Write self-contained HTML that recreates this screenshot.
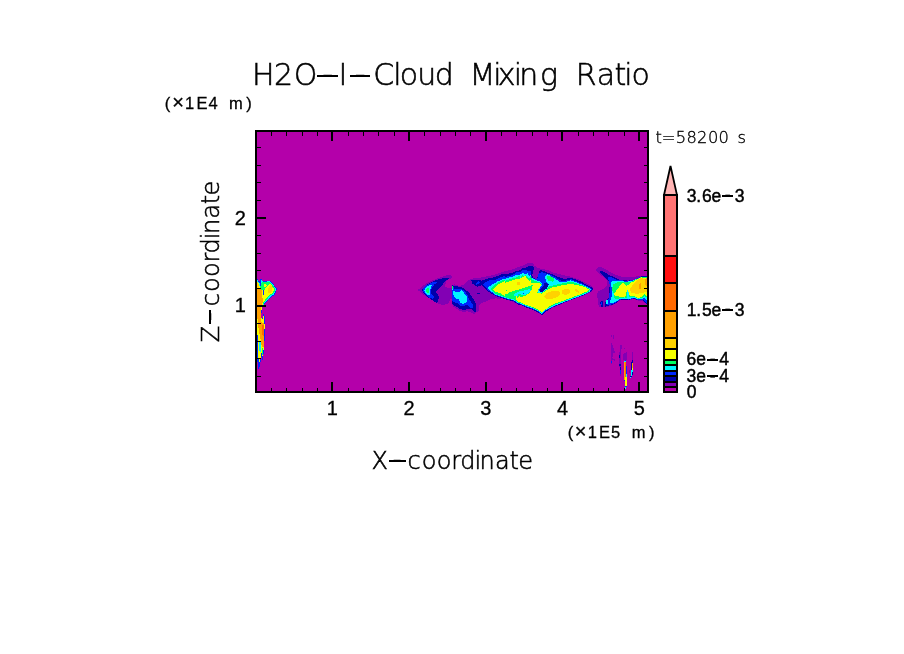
<!DOCTYPE html>
<html lang="en"><head><meta charset="utf-8"><title>H2O-I-Cloud Mixing Ratio</title>
<style>
html,body{margin:0;padding:0;background:#fff}
body{width:904px;height:654px;overflow:hidden}
svg{display:block}
text{text-anchor:middle;fill:#000;white-space:pre}
.thin{font-family:"DejaVu Sans Light","DejaVu Sans ExtraLight","Liberation Sans",sans-serif;font-weight:200;stroke:#000;stroke-width:.55px}
.thin1{font-family:"DejaVu Sans Light","DejaVu Sans ExtraLight","Liberation Sans",sans-serif;font-weight:200;stroke:#000;stroke-width:.35px}

.lbl{font-family:"Liberation Sans",sans-serif;stroke:#000;stroke-width:.45px}
.med{font-family:"Liberation Sans",sans-serif;stroke:#000;stroke-width:.3px}
</style></head><body>
<svg width="904" height="654" viewBox="0 0 904 654">
<rect width="904" height="654" fill="#fff"/>
<rect x="256" y="131" width="392" height="261" fill="#b400aa"/>
<g id="clouds" shape-rendering="crispEdges">
<polygon fill="#8200b4" points="417.9,290.0 422.4,286.2 427.2,282.7 432.7,280.3 438.9,277.9 444.4,275.8 447.5,275.0 450.6,275.2 452.0,276.5 451.6,278.4 449.2,278.8 447.2,280.3 446.1,282.0 445.1,284.8 445.4,287.2 448.5,288.0 451.6,288.4 451.6,298.9 450.6,299.2 449.6,301.3 447.5,303.7 443.0,305.2 440.3,304.4 436.8,302.9 432.7,300.3 427.9,297.5 423.8,294.8 420.3,292.2"/>
<polygon fill="#8200b4" points="451.9,284.7 454.6,284.4 458.8,285.8 462.9,285.1 465.6,282.7 468.7,280.1 472.5,278.5 478.0,278.2 482.5,277.2 487.7,276.1 493.2,275.1 498.0,273.9 500.1,272.6 505.0,272.0 505.0,298.8 502.1,298.2 499.4,299.2 495.9,298.2 493.2,299.5 489.0,298.5 486.3,300.2 483.5,302.3 480.1,304.3 478.7,307.1 478.7,311.2 476.0,312.3 475.3,314.0 472.5,313.3 467.7,311.2 463.6,311.9 459.5,310.5 455.3,307.8 452.9,306.4 451.9,302.3"/>
<polygon fill="#8200b4" points="480.0,277.9 488.0,276.3 495.0,274.5 499.1,273.1 503.9,271.4 508.8,270.3 512.9,269.4 517.7,267.3 522.5,265.6 525.9,263.8 529.4,262.9 532.8,263.4 535.0,266.2 539.1,268.4 543.2,269.0 548.6,270.3 552.7,272.3 559.6,274.2 570.3,276.6 578.2,279.2 586.2,283.2 591.5,285.9 593.5,288.5 591.5,291.9 586.2,294.5 578.2,297.8 570.3,300.5 562.3,303.8 554.3,307.1 547.7,310.4 541.7,314.4 538.4,313.1 533.1,309.8 525.1,306.5 517.2,303.8 509.2,300.5 501.2,297.8 494.6,296.5 490.6,299.2 485.3,301.8 480.0,303.8"/>
<polygon fill="#8200b4" points="596.2,269.6 598.3,267.5 601.7,267.2 605.1,268.9 609.3,271.6 613.4,273.7 617.5,275.4 622.3,276.8 628.5,276.8 634.0,276.8 638.2,276.1 641.3,275.6 647.1,275.8 647.1,304.0 645.1,303.3 642.3,300.5 638.2,300.5 634.0,299.2 628.5,300.2 624.4,299.9 619.6,300.5 616.2,303.3 612.7,305.4 607.2,307.0 598.9,307.0 597.9,300.5 597.2,296.4 597.6,291.6 602.4,289.5 605.8,286.8 607.5,284.7 607.2,280.6 604.8,278.2 601.7,275.8 598.3,273.0 596.5,270.9"/>
<polygon fill="#8200b4" points="610.9,335.0 611.9,335.0 611.9,337.0 610.9,337.0"/>
<polygon fill="#8200b4" points="612.9,335.0 613.9,335.0 613.9,338.9 612.9,338.9"/>
<polygon fill="#8200b4" points="611.1,341.9 612.4,344.9 613.9,348.9 614.9,351.9 614.4,353.9 612.9,352.9 612.4,357.8 614.9,359.8 614.4,360.8 612.4,359.8 611.9,363.8 610.9,364.3 611.1,354.9"/>
<polygon fill="#8200b4" points="620.4,345.4 621.9,345.4 621.4,349.9 620.9,355.8 621.4,362.8 621.4,369.8 621.1,375.7 620.1,375.7 619.9,369.8 619.1,363.8 618.9,355.8 619.9,349.9"/>
<polygon fill="#8200b4" points="623.4,354.4 625.8,352.4 627.3,352.4 627.3,359.8 623.4,359.8"/>
<polygon fill="#8200b4" points="623.9,347.9 624.9,347.9 624.9,348.9 623.9,348.9"/>
<polygon fill="#8200b4" points="632.0,352.4 632.8,352.4 632.8,360.8 632.0,360.8"/>
<polygon fill="#8200b4" points="629.0,369.8 629.6,369.8 629.6,372.7 629.0,372.7"/>
<polygon fill="#0000aa" points="422.0,290.0 423.8,287.2 427.2,284.5 432.7,281.7 437.5,279.6 443.0,278.1 448.5,277.9 449.2,278.8 446.5,280.0 443.7,282.4 442.3,285.1 439.6,288.2 436.5,290.6 436.2,292.4 437.5,294.1 438.9,297.2 437.9,301.0 436.5,302.9 433.4,301.0 429.3,298.2 425.1,294.8 422.7,292.0"/>
<polygon fill="#0000aa" points="451.9,285.4 454.6,285.8 458.8,286.8 462.2,287.5 465.6,289.9 469.1,292.6 471.5,296.1 473.9,299.5 476.0,304.3 476.0,311.6 473.9,311.9 472.5,309.5 467.7,309.2 463.6,310.2 459.8,308.8 456.0,306.4 452.9,304.7 451.9,301.6"/>
<polygon fill="#0000aa" points="471.2,280.3 473.9,279.9 478.0,280.3 482.2,280.6 486.3,278.9 491.8,277.8 497.3,276.1 500.1,275.1 502.1,274.1 505.0,273.7 505.0,298.8 501.4,297.5 497.3,295.4 493.2,294.4 489.7,292.6 487.0,290.6 484.9,287.1 483.2,284.7 480.8,285.8 477.3,286.8 474.6,285.4 472.2,283.4"/>
<polygon fill="#0000aa" points="480.0,280.8 486.6,279.9 495.0,277.9 498.5,275.9 502.6,274.5 507.3,273.8 512.3,272.7 515.7,271.0 518.4,270.7 522.5,268.4 527.4,267.3 528.7,266.0 532.8,266.2 534.2,268.4 532.8,271.9 532.4,275.3 533.1,277.9 537.1,279.2 538.4,273.9 540.0,269.9 546.9,272.3 553.8,275.0 560.6,277.8 564.8,279.2 570.3,277.5 574.4,278.8 580.0,281.2 585.4,284.0 590.2,286.4 593.0,288.5 592.8,289.9 590.2,292.2 583.5,295.2 575.6,298.2 567.6,301.1 559.6,304.5 551.7,307.8 546.4,311.4 541.9,315.1 539.1,313.1 535.6,311.0 530.8,309.2 525.9,307.5 522.5,305.8 518.4,304.5 515.7,302.7 513.6,301.3 508.8,300.3 503.9,298.9 499.1,297.2 495.0,295.7 490.6,292.8 486.6,289.9 482.7,285.9 480.0,283.9"/>
<polygon fill="#8200b4" points="534.2,268.4 535.8,268.0 539.7,270.2 538.1,274.6 536.8,279.2 533.1,277.9 532.4,275.0 533.1,271.3"/>
<polygon fill="#0000aa" points="600.0,271.6 602.0,270.9 605.1,272.3 608.6,274.7 612.7,276.5 616.2,278.2 620.3,280.2 628.5,280.6 634.0,279.9 638.2,277.8 641.3,276.1 647.1,276.5 647.1,304.0 645.1,302.9 642.3,300.2 638.2,300.2 634.0,298.8 628.5,299.9 624.4,299.5 619.6,300.2 616.2,302.9 612.7,304.7 607.2,306.0 605.5,307.0 604.8,303.3 606.5,300.5 608.6,297.8 609.3,292.3 609.6,284.7 608.6,281.3 605.8,278.5 603.1,275.8 600.3,273.0"/>
<polygon fill="#0028ff" points="256.6,278.9 258.0,279.8 259.3,282.1 260.7,278.0 262.6,280.7 265.8,281.2 270.3,280.7 272.6,283.0 274.9,286.2 276.8,288.5 276.3,291.7 274.5,294.9 271.7,296.8 268.5,299.5 265.8,302.3 263.9,305.2 256.6,305.2"/>
<polygon fill="#0028ff" points="256.6,306.6 262.3,306.6 261.7,311.2 261.2,316.9 262.3,319.2 263.5,314.0 264.8,316.9 265.2,324.9 264.8,334.1 264.4,343.3 264.0,351.3 262.9,357.0 262.3,361.6 261.7,355.9 260.6,361.6 259.5,367.4 258.3,369.7 257.7,363.9 256.6,352.5"/>
<polygon fill="#0028ff" points="422.4,290.0 424.1,287.2 427.2,284.8 431.3,282.7 436.5,281.8 436.8,282.7 434.1,284.8 432.0,287.9 430.6,290.6 431.3,293.4 433.4,296.2 434.1,297.9 432.7,298.9 429.3,297.5 425.5,294.1 423.1,291.7"/>
<polygon fill="#0028ff" points="452.2,286.5 453.6,287.5 454.6,289.2 457.4,289.5 460.8,288.9 463.9,290.6 466.3,293.3 468.1,296.1 468.7,299.2 471.2,302.3 473.2,305.0 472.9,308.1 470.5,307.8 468.7,305.7 465.6,305.0 463.6,306.4 460.8,306.1 458.1,303.7 454.6,302.3 452.4,300.9"/>
<polygon fill="#0028ff" points="483.2,284.4 486.3,281.6 489.7,280.3 494.6,279.9 498.7,278.2 501.4,276.8 505.0,276.1 505.0,298.2 502.8,297.1 499.4,295.1 494.6,293.7 490.4,292.0 487.7,289.9 485.6,286.8"/>
<polygon fill="#0028ff" points="482.7,284.5 488.0,282.6 495.0,280.7 498.5,278.7 501.9,277.6 506.7,276.6 512.3,275.3 515.7,272.7 517.7,272.1 521.2,271.8 522.5,270.3 525.9,270.1 528.1,271.0 530.8,270.7 531.1,275.3 532.2,277.9 537.1,279.5 538.4,274.6 540.0,273.0 545.4,273.4 548.9,274.1 553.8,276.5 558.6,279.2 562.7,281.6 566.2,280.6 570.9,279.2 575.8,281.0 581.3,283.4 586.7,285.7 591.0,287.9 591.8,289.3 589.9,292.0 582.9,295.2 574.9,298.1 567.0,301.1 559.0,304.2 551.0,307.8 546.0,310.8 541.9,314.4 539.1,312.4 535.6,310.3 530.8,308.6 525.9,306.9 522.5,305.1 518.4,303.8 515.7,302.1 513.6,300.6 508.8,299.7 503.9,298.2 499.1,296.5 495.0,295.0 491.3,292.5 488.6,289.9"/>
<polygon fill="#0028ff" points="608.2,277.1 610.6,276.8 613.4,278.2 616.2,279.5 620.3,280.4 628.5,280.7 634.0,280.0 638.2,278.0 641.3,276.5 647.1,276.8 647.1,303.3 645.1,301.9 643.0,299.5 638.2,299.9 634.0,298.3 628.5,299.5 624.4,299.0 619.6,299.7 616.2,302.3 612.7,304.0 607.2,305.4 606.2,304.0 606.9,301.2 608.9,298.1 609.6,292.3 609.8,284.7 608.6,280.6"/>
<polygon fill="#00f5ff" points="424.1,290.6 425.5,287.5 428.6,285.5 432.0,284.8 431.3,287.2 430.0,290.0 429.6,292.7 430.0,295.5 427.9,295.1 425.5,293.1"/>
<polygon fill="#00f5ff" points="452.2,286.8 453.3,290.6 455.3,291.6 458.8,292.0 461.5,290.2 463.6,292.6 465.6,294.7 467.0,297.5 466.9,301.2 465.0,303.3 462.2,304.0 460.5,302.6 458.8,299.5 455.3,298.2 453.6,295.4 452.7,292.0"/>
<polygon fill="#00f5ff" points="488.0,287.8 489.7,286.1 493.2,284.0 497.3,281.6 501.4,279.6 505.0,278.5 505.0,297.8 500.7,295.4 496.6,293.3 492.5,292.0 489.0,289.9"/>
<polygon fill="#00f5ff" points="488.0,287.9 490.6,285.9 495.0,283.5 499.1,281.1 503.2,279.4 508.8,277.6 512.9,276.6 516.4,274.5 518.4,275.3 521.2,274.2 522.5,272.7 525.3,274.2 527.4,273.1 529.4,275.9 530.8,274.9 531.5,277.9 535.8,279.9 541.1,281.9 542.4,284.5 539.7,288.5 538.4,291.2 541.7,291.9 545.0,289.9 547.7,286.5 549.0,284.5 546.4,281.9 545.0,277.9 545.2,275.8 547.6,274.1 551.7,276.9 555.8,279.2 560.6,282.3 565.5,281.9 570.9,280.3 575.8,282.0 581.3,284.4 586.7,286.8 590.2,288.5 591.0,289.6 589.5,291.9 582.2,295.2 574.3,298.1 566.3,301.1 558.3,304.2 550.4,307.8 545.6,310.3 541.9,313.8 539.1,311.8 535.6,309.6 530.8,307.9 525.9,306.2 522.5,304.5 518.4,303.1 515.7,301.4 513.6,299.9 508.8,299.0 503.9,297.6 499.1,295.8 495.0,294.4 491.9,292.0 490.0,289.9"/>
<polygon fill="#00f5ff" points="611.0,282.0 613.4,280.6 617.5,280.9 620.3,281.3 625.8,281.6 631.3,281.3 634.7,279.9 638.2,278.2 641.3,276.8 647.1,277.1 647.1,300.5 644.4,297.8 643.0,298.5 638.2,299.5 634.0,297.8 628.5,299.2 624.4,298.5 619.6,299.2 616.2,301.6 612.7,303.3 610.0,302.6 610.6,299.5 612.0,296.4 612.4,290.9 611.3,286.1"/>
<polygon fill="#00f5ff" points="257.5,279.8 259.3,283.0 261.2,279.3 262.6,281.6 265.8,281.6 269.9,281.2 272.2,283.5 274.5,286.7 275.9,289.0 275.4,291.7 273.6,294.5 270.8,296.3 267.6,299.5 264.8,302.7 263.2,305.2 256.6,305.2 256.6,279.8"/>
<polygon fill="#00ff64" points="426.2,289.6 427.5,288.0 428.9,288.4 428.9,290.6 428.6,293.1 427.2,292.7 426.2,291.3"/>
<polygon fill="#00ff64" points="452.1,286.1 452.9,286.1 452.9,288.9 452.1,288.9"/>
<polygon fill="#00ff64" points="491.1,288.5 493.2,285.8 497.3,283.0 502.1,280.6 505.0,279.6 505.0,297.1 501.4,295.1 497.3,292.6 493.2,290.9"/>
<polygon fill="#00ff64" points="490.6,288.8 493.3,286.5 495.0,285.5 499.1,283.5 503.9,281.4 508.8,279.6 513.6,277.9 517.7,277.2 518.8,275.5 520.5,277.6 522.5,275.3 523.9,276.2 525.9,275.3 527.4,277.2 529.4,278.7 530.8,275.9 531.8,279.4 535.8,281.2 540.4,282.6 541.7,284.5 538.4,289.9 537.7,292.5 541.7,292.8 546.4,289.9 548.9,286.7 553.8,285.2 558.6,284.2 564.0,283.0 568.9,282.3 573.1,282.3 577.2,283.4 581.3,284.9 585.4,286.5 589.3,288.4 590.2,289.6 588.2,291.9 580.9,294.9 572.9,297.8 565.0,300.7 557.0,303.8 549.7,307.1 545.0,309.8 541.9,313.1 539.1,311.1 535.6,309.0 530.8,307.2 525.9,305.5 522.5,303.8 518.4,302.5 515.7,300.7 513.6,299.3 508.8,298.4 503.9,296.9 499.1,295.2 495.0,293.7 493.0,291.5 491.9,289.9"/>
<polygon fill="#00ff64" points="613.7,284.0 617.5,282.3 620.3,282.0 625.8,282.3 631.3,282.0 634.7,280.4 638.2,278.5 641.3,277.1 647.1,277.5 647.1,297.8 644.4,296.4 642.3,297.8 638.2,298.8 634.7,297.1 631.3,296.8 628.5,297.8 624.4,297.4 619.6,298.1 616.2,299.5 614.1,297.8 613.7,293.7 612.0,289.5 612.7,286.1"/>
<polygon fill="#00ff64" points="261.2,283.0 263.5,282.1 266.7,281.9 269.9,281.9 271.7,283.9 274.0,287.1 274.9,289.4 274.5,291.7 272.6,294.0 270.3,295.4 267.1,299.1 264.4,302.3 262.8,305.2 256.6,305.2 256.6,290.3 259.3,286.7"/>
<polygon fill="#f5ff00" points="493.2,289.2 495.9,286.1 500.1,283.4 505.0,280.9 505.0,296.1 502.8,294.7 499.4,292.6 495.9,291.3"/>
<polygon fill="#f5ff00" points="493.3,289.2 495.0,287.6 499.8,285.2 504.7,283.1 510.1,281.1 515.7,279.4 519.8,278.7 522.5,277.2 525.3,275.9 527.4,278.7 529.4,280.7 530.8,279.4 531.5,282.8 535.8,283.2 540.4,283.5 541.3,285.2 538.4,289.2 537.1,292.8 541.7,293.6 546.4,290.5 550.4,288.0 555.7,286.7 562.3,285.3 567.6,284.4 574.3,284.5 580.9,285.9 586.2,287.7 589.1,289.6 586.9,291.5 579.6,294.5 571.6,297.6 563.6,300.5 555.7,303.4 549.0,306.5 544.5,310.2 541.9,312.2 539.1,310.3 535.6,308.2 530.8,306.5 525.9,304.7 522.5,303.1 517.7,301.5 516.0,299.7 516.4,296.2 517.7,297.8 519.0,295.8 521.2,297.2 525.3,295.8 529.4,293.0 532.2,288.9 532.6,285.2 530.8,285.5 525.9,287.2 521.2,288.9 515.7,290.3 512.3,291.3 508.8,292.8 506.7,294.1 503.9,294.5 501.9,293.7 498.5,292.8 495.0,291.5 493.3,290.1"/>
<polygon fill="#f5ff00" points="614.1,294.3 615.5,291.6 617.5,288.8 620.3,285.4 623.0,283.0 624.4,284.0 626.5,286.1 628.5,284.7 630.6,282.6 632.7,282.0 634.7,280.9 638.2,278.9 641.3,277.3 644.4,278.5 647.1,277.8 647.1,296.4 644.4,294.3 642.3,296.4 638.2,298.1 634.7,296.1 631.3,296.1 629.2,295.0 628.5,292.3 627.5,290.2 626.5,292.3 625.8,296.4 623.0,296.8 620.3,297.4 618.2,296.1 616.2,296.4"/>
<polygon fill="#f5ff00" points="256.6,280.3 258.9,283.9 260.3,287.6 258.9,290.3 262.1,289.4 263.9,290.3 265.8,288.1 268.1,284.8 269.9,283.5 271.3,284.8 273.6,288.1 274.0,290.3 272.6,293.1 269.9,294.5 266.7,298.1 263.9,301.4 262.3,305.2 256.6,305.2"/>
<polygon fill="#f5ff00" points="263.5,284.4 266.2,283.7 266.9,285.8 264.8,287.1 263.5,286.5"/>
<polygon fill="#f5ff00" points="256.6,306.6 261.7,306.6 261.2,316.9 262.1,320.3 263.5,316.3 264.6,324.9 264.4,334.1 263.9,343.3 263.5,350.2 262.6,355.9 261.4,352.5 260.3,359.3 259.1,363.9 258.3,357.0 257.7,336.4 256.6,324.9"/>
<polygon fill="#0028ff" points="475.3,284.4 477.0,282.3 478.7,280.9 480.1,282.0 478.7,283.7 476.7,284.9"/>
<polygon fill="#0000aa" points="477.0,293.0 480.1,293.0 480.1,294.0 477.0,294.0"/>
<polygon fill="#00ff64" points="547.0,275.9 551.7,276.6 554.3,279.2 553.0,281.6 549.0,281.2 547.4,279.0"/>
<polygon fill="#0028ff" points="538.4,274.6 541.7,271.9 545.7,273.3 545.0,277.9 543.7,281.9 546.4,283.9 548.4,284.5 546.4,287.9 542.4,291.2 539.7,291.9 540.4,288.5 543.7,285.2 542.4,283.2 538.4,279.9"/>
<polygon fill="#0000aa" points="543.5,282.6 546.4,283.2 549.0,284.5 547.0,288.3 542.7,291.5 539.7,292.0 540.5,289.2 544.0,285.6"/>
<polygon fill="#00f5ff" points="514.9,293.7 517.7,291.7 522.5,291.1 527.4,289.6 530.0,288.7 530.8,290.3 528.7,293.4 524.6,295.4 521.2,294.8 519.0,293.7 517.7,295.8 515.7,296.2 513.6,295.8"/>
<polygon fill="#0028ff" points="522.7,292.8 523.8,292.8 523.8,293.8 522.7,293.8"/>
<polygon fill="#00ff64" points="506.0,290.0 507.1,290.0 507.1,291.1 506.0,291.1"/>
<polygon fill="#ffd200" points="544.4,296.5 546.4,293.2 551.7,291.2 557.0,290.5 559.6,291.9 560.3,294.5 557.0,297.2 551.7,298.9 546.4,298.9"/>
<polygon fill="#ffd200" points="561.6,290.5 565.0,288.8 568.9,289.2 570.3,291.2 568.9,293.8 565.0,295.2 562.3,293.8"/>
<polygon fill="#ffd200" points="574.3,289.2 576.9,289.2 579.6,291.9 578.2,292.8 575.6,290.9"/>
<polygon fill="#ffd200" points="517.2,282.2 519.8,282.2 519.8,284.5 517.2,284.5"/>
<polygon fill="#0000aa" points="600.3,301.6 602.7,301.2 603.1,304.7 602.4,307.0 600.7,307.0"/>
<polygon fill="#0028ff" points="601.0,302.6 602.4,302.3 602.5,305.4 601.4,305.4"/>
<polygon fill="#00f5ff" points="606.2,299.9 608.0,299.5 608.0,303.3 606.5,304.0"/>
<polygon fill="#00f5ff" points="627.3,290.2 628.7,292.3 628.9,298.5 627.5,298.8"/>
<polygon fill="#ffd200" points="629.9,289.5 631.3,286.8 634.0,283.3 636.8,280.6 639.6,278.5 641.6,277.8 644.4,279.2 647.1,278.5 647.1,292.3 645.1,291.6 643.0,293.0 639.6,293.3 636.8,294.3 634.0,293.0 631.3,293.0"/>
<polygon fill="#ffa000" points="638.9,284.7 640.2,283.0 641.3,284.0 640.9,288.2 639.6,289.5 638.7,287.5"/>
<polygon fill="#ffa000" points="644.7,282.0 645.7,278.5 647.1,277.5 647.1,286.1 645.4,285.4"/>
<polygon fill="#0028ff" points="259.9,280.3 261.2,280.3 261.2,285.8 260.1,285.8"/>
<polygon fill="#0028ff" points="263.0,290.3 264.4,289.9 264.2,294.9 263.0,294.9"/>
<polygon fill="#ffa000" points="256.6,288.5 260.3,289.0 261.6,290.3 262.1,295.9 263.0,299.5 262.6,303.2 261.6,305.2 256.6,305.2"/>
<polygon fill="#ffd200" points="267.6,290.3 269.0,286.7 270.8,284.4 272.6,287.6 271.7,291.7 269.4,293.6 267.6,292.6"/>
<polygon fill="#ffd200" points="256.6,280.7 258.4,283.9 259.3,288.1 256.6,288.5"/>
<polygon fill="#ffa000" points="257.0,306.6 260.9,306.6 260.6,315.8 261.2,321.5 262.6,323.2 264.4,323.8 264.4,336.4 263.5,346.7 261.9,347.9 260.5,338.7 258.9,330.7 257.5,319.2"/>
<polygon fill="#ff6900" points="261.9,325.5 263.9,324.9 264.2,333.0 263.1,337.6 261.9,333.0"/>
<polygon fill="#00f5ff" points="259.1,341.0 260.6,342.1 261.2,347.9 260.3,353.6 259.3,350.2"/>
<polygon fill="#00ff64" points="261.7,347.9 262.9,347.9 262.6,354.8 261.9,353.6"/>
<polygon fill="#0028ff" points="610.9,361.3 611.9,361.3 611.9,362.8 610.9,362.8"/>
<polygon fill="#0000aa" points="618.9,354.9 620.4,354.9 620.4,358.3 618.9,358.3"/>
<polygon fill="#0000aa" points="618.9,363.8 621.1,363.8 621.1,365.8 618.9,365.8"/>
<polygon fill="#0000aa" points="619.9,366.8 621.4,366.8 621.4,373.7 619.9,373.7"/>
<polygon fill="#0028ff" points="620.2,369.8 621.1,369.8 621.1,373.7 620.2,373.7"/>
<polygon fill="#0028ff" points="623.9,360.8 626.3,360.3 626.6,367.8 627.0,373.7 627.3,379.7 626.8,385.7 626.0,389.1 624.9,389.4 624.9,381.7 623.9,380.7 623.7,369.8"/>
<polygon fill="#00f5ff" points="624.4,360.6 626.0,360.6 626.0,362.0 624.4,362.0"/>
<polygon fill="#ff6900" points="624.1,362.0 626.0,362.0 626.0,379.7 624.4,379.7"/>
<polygon fill="#ffa000" points="624.1,362.0 625.0,362.0 625.0,379.7 624.4,379.7"/>
<polygon fill="#f5ff00" points="624.7,377.7 626.6,376.7 626.6,385.7 625.3,386.2 625.0,381.7"/>
<polygon fill="#00f5ff" points="624.9,386.7 626.0,386.7 626.0,389.4 624.9,389.4"/>
<polygon fill="#00f5ff" points="626.2,373.7 627.0,373.7 627.0,376.7 626.2,376.7"/>
<polygon fill="#0000aa" points="631.8,359.8 633.0,359.8 633.3,369.8 632.8,373.7 631.8,376.7 630.3,378.2 629.8,377.2 631.0,374.7 631.0,365.8"/>
<polygon fill="#ffa000" points="632.0,363.3 633.0,363.3 633.0,367.8 632.0,367.8"/>
<polygon fill="#f5ff00" points="632.0,367.8 633.0,367.8 633.0,370.3 632.0,370.3"/>
<polygon fill="#00f5ff" points="631.2,369.8 632.6,370.3 632.4,373.7 631.6,375.9 631.0,374.7"/>
<polygon fill="#00ff64" points="631.6,370.8 632.4,371.0 632.2,373.7 631.6,374.2"/>
<polygon fill="#00f5ff" points="630.0,376.9 631.0,376.9 631.0,378.1 630.0,378.1"/>
</g>
<g stroke="#000" shape-rendering="crispEdges">
<line x1="271.5" y1="132" x2="271.5" y2="136" stroke-width="1"/>
<line x1="271.5" y1="388" x2="271.5" y2="391" stroke-width="1"/>
<line x1="286.5" y1="132" x2="286.5" y2="136" stroke-width="1"/>
<line x1="286.5" y1="388" x2="286.5" y2="391" stroke-width="1"/>
<line x1="302.5" y1="132" x2="302.5" y2="136" stroke-width="1"/>
<line x1="302.5" y1="388" x2="302.5" y2="391" stroke-width="1"/>
<line x1="317.5" y1="132" x2="317.5" y2="136" stroke-width="1"/>
<line x1="317.5" y1="388" x2="317.5" y2="391" stroke-width="1"/>
<line x1="332" y1="132" x2="332" y2="141" stroke-width="2"/>
<line x1="332" y1="382" x2="332" y2="391" stroke-width="2"/>
<line x1="348.5" y1="132" x2="348.5" y2="136" stroke-width="1"/>
<line x1="348.5" y1="388" x2="348.5" y2="391" stroke-width="1"/>
<line x1="363.5" y1="132" x2="363.5" y2="136" stroke-width="1"/>
<line x1="363.5" y1="388" x2="363.5" y2="391" stroke-width="1"/>
<line x1="378.5" y1="132" x2="378.5" y2="136" stroke-width="1"/>
<line x1="378.5" y1="388" x2="378.5" y2="391" stroke-width="1"/>
<line x1="394.5" y1="132" x2="394.5" y2="136" stroke-width="1"/>
<line x1="394.5" y1="388" x2="394.5" y2="391" stroke-width="1"/>
<line x1="409" y1="132" x2="409" y2="141" stroke-width="2"/>
<line x1="409" y1="382" x2="409" y2="391" stroke-width="2"/>
<line x1="424.5" y1="132" x2="424.5" y2="136" stroke-width="1"/>
<line x1="424.5" y1="388" x2="424.5" y2="391" stroke-width="1"/>
<line x1="440.5" y1="132" x2="440.5" y2="136" stroke-width="1"/>
<line x1="440.5" y1="388" x2="440.5" y2="391" stroke-width="1"/>
<line x1="455.5" y1="132" x2="455.5" y2="136" stroke-width="1"/>
<line x1="455.5" y1="388" x2="455.5" y2="391" stroke-width="1"/>
<line x1="470.5" y1="132" x2="470.5" y2="136" stroke-width="1"/>
<line x1="470.5" y1="388" x2="470.5" y2="391" stroke-width="1"/>
<line x1="486" y1="132" x2="486" y2="141" stroke-width="2"/>
<line x1="486" y1="382" x2="486" y2="391" stroke-width="2"/>
<line x1="501.5" y1="132" x2="501.5" y2="136" stroke-width="1"/>
<line x1="501.5" y1="388" x2="501.5" y2="391" stroke-width="1"/>
<line x1="516.5" y1="132" x2="516.5" y2="136" stroke-width="1"/>
<line x1="516.5" y1="388" x2="516.5" y2="391" stroke-width="1"/>
<line x1="532.5" y1="132" x2="532.5" y2="136" stroke-width="1"/>
<line x1="532.5" y1="388" x2="532.5" y2="391" stroke-width="1"/>
<line x1="547.5" y1="132" x2="547.5" y2="136" stroke-width="1"/>
<line x1="547.5" y1="388" x2="547.5" y2="391" stroke-width="1"/>
<line x1="562" y1="132" x2="562" y2="141" stroke-width="2"/>
<line x1="562" y1="382" x2="562" y2="391" stroke-width="2"/>
<line x1="578.5" y1="132" x2="578.5" y2="136" stroke-width="1"/>
<line x1="578.5" y1="388" x2="578.5" y2="391" stroke-width="1"/>
<line x1="593.5" y1="132" x2="593.5" y2="136" stroke-width="1"/>
<line x1="593.5" y1="388" x2="593.5" y2="391" stroke-width="1"/>
<line x1="608.5" y1="132" x2="608.5" y2="136" stroke-width="1"/>
<line x1="608.5" y1="388" x2="608.5" y2="391" stroke-width="1"/>
<line x1="624.5" y1="132" x2="624.5" y2="136" stroke-width="1"/>
<line x1="624.5" y1="388" x2="624.5" y2="391" stroke-width="1"/>
<line x1="639" y1="132" x2="639" y2="141" stroke-width="2"/>
<line x1="639" y1="382" x2="639" y2="391" stroke-width="2"/>
<line x1="257" y1="376.5" x2="261" y2="376.5" stroke-width="1"/>
<line x1="644" y1="376.5" x2="647" y2="376.5" stroke-width="1"/>
<line x1="257" y1="358.5" x2="261" y2="358.5" stroke-width="1"/>
<line x1="644" y1="358.5" x2="647" y2="358.5" stroke-width="1"/>
<line x1="257" y1="341.5" x2="261" y2="341.5" stroke-width="1"/>
<line x1="644" y1="341.5" x2="647" y2="341.5" stroke-width="1"/>
<line x1="257" y1="323.5" x2="261" y2="323.5" stroke-width="1"/>
<line x1="644" y1="323.5" x2="647" y2="323.5" stroke-width="1"/>
<line x1="257" y1="306" x2="266" y2="306" stroke-width="2"/>
<line x1="638" y1="306" x2="647" y2="306" stroke-width="2"/>
<line x1="257" y1="288.5" x2="261" y2="288.5" stroke-width="1"/>
<line x1="644" y1="288.5" x2="647" y2="288.5" stroke-width="1"/>
<line x1="257" y1="270.5" x2="261" y2="270.5" stroke-width="1"/>
<line x1="644" y1="270.5" x2="647" y2="270.5" stroke-width="1"/>
<line x1="257" y1="253.5" x2="261" y2="253.5" stroke-width="1"/>
<line x1="644" y1="253.5" x2="647" y2="253.5" stroke-width="1"/>
<line x1="257" y1="235.5" x2="261" y2="235.5" stroke-width="1"/>
<line x1="644" y1="235.5" x2="647" y2="235.5" stroke-width="1"/>
<line x1="257" y1="218" x2="266" y2="218" stroke-width="2"/>
<line x1="638" y1="218" x2="647" y2="218" stroke-width="2"/>
<line x1="257" y1="200.5" x2="261" y2="200.5" stroke-width="1"/>
<line x1="644" y1="200.5" x2="647" y2="200.5" stroke-width="1"/>
<line x1="257" y1="182.5" x2="261" y2="182.5" stroke-width="1"/>
<line x1="644" y1="182.5" x2="647" y2="182.5" stroke-width="1"/>
<line x1="257" y1="165.5" x2="261" y2="165.5" stroke-width="1"/>
<line x1="644" y1="165.5" x2="647" y2="165.5" stroke-width="1"/>
<line x1="257" y1="147.5" x2="261" y2="147.5" stroke-width="1"/>
<line x1="644" y1="147.5" x2="647" y2="147.5" stroke-width="1"/>
</g>
<rect x="256" y="131" width="392" height="261" fill="none" stroke="#000" stroke-width="2" shape-rendering="crispEdges"/>
<g shape-rendering="crispEdges">
<rect x="664" y="387.0" width="13" height="5.0" fill="#b400aa"/>
<rect x="664" y="382.0" width="13" height="5.0" fill="#8200b4"/>
<rect x="664" y="376.0" width="13" height="6.0" fill="#0000aa"/>
<rect x="664" y="371.0" width="13" height="5.0" fill="#0028ff"/>
<rect x="664" y="365.0" width="13" height="6.0" fill="#00f5ff"/>
<rect x="664" y="360.0" width="13" height="5.0" fill="#00ff64"/>
<rect x="664" y="349.0" width="13" height="11.0" fill="#f5ff00"/>
<rect x="664" y="338.0" width="13" height="11.0" fill="#ffd200"/>
<rect x="664" y="311.0" width="13" height="27.0" fill="#ffa000"/>
<rect x="664" y="283.0" width="13" height="28.0" fill="#ff6900"/>
<rect x="664" y="256.0" width="13" height="27.0" fill="#ff0f0f"/>
<rect x="664" y="195.0" width="13" height="61.0" fill="#ff7373"/>
<line x1="664" y1="387" x2="677" y2="387" stroke="#000" stroke-width="2"/>
<line x1="664" y1="382" x2="677" y2="382" stroke="#000" stroke-width="2"/>
<line x1="664" y1="376" x2="677" y2="376" stroke="#000" stroke-width="2"/>
<line x1="664" y1="371" x2="677" y2="371" stroke="#000" stroke-width="2"/>
<line x1="664" y1="365" x2="677" y2="365" stroke="#000" stroke-width="2"/>
<line x1="664" y1="360" x2="677" y2="360" stroke="#000" stroke-width="2"/>
<line x1="664" y1="349" x2="677" y2="349" stroke="#000" stroke-width="2"/>
<line x1="664" y1="338" x2="677" y2="338" stroke="#000" stroke-width="2"/>
<line x1="664" y1="311" x2="677" y2="311" stroke="#000" stroke-width="2"/>
<line x1="664" y1="283" x2="677" y2="283" stroke="#000" stroke-width="2"/>
<line x1="664" y1="256" x2="677" y2="256" stroke="#000" stroke-width="2"/>
<rect x="664" y="195" width="13" height="197" fill="none" stroke="#000" stroke-width="2"/>
</g>
<path d="M664 195 L670.5 166 L677 195 Z" fill="#ffb4b4" stroke="#000" stroke-width="1.8" stroke-linejoin="miter"/>
<text class="thin" font-size="30" x="263.3 283.6 305.6 327.7 343.0 360.2 383.8 397.5 409.0 426.7 444.2 463.4 482.5 497.3 506.7 517.8 528.7 549.0 567.6 586.2 606.0 620.5 628.5 640.8" y="85.0 85.0 85.0 84.4 85.0 84.4 85.0 85.0 85.0 85.0 85.0 85.0 85.0 85.0 85.0 85.0 85.0 85.0 85.0 85.0 85.0 85.0 85.0 85.0">H2O-I-Cloud Mixing Ratio</text>
<g shape-rendering="crispEdges" fill="#000"><rect x="317" y="75" width="20.5" height="2"/><rect x="350" y="75" width="19.5" height="2"/>
<rect x="389" y="460" width="16.5" height="2"/><rect x="209" y="309.5" width="2" height="14.5"/>
<rect x="722" y="195" width="11" height="2"/><rect x="722" y="309" width="11" height="2"/><rect x="707" y="359" width="11" height="2"/><rect x="707" y="375" width="11" height="2"/></g>
<text class="med" font-size="16.5" x="167.6 178.2 189.7 201.9 213.2 224.5 235.8 249.0" y="108.5 109.3 108.5 108.5 108.5 108.5 108.5 108.5">(<tspan font-size="20">×</tspan>1E4 m)</text>
<text class="med" font-size="16.5" x="570.5 580.7 592.3 604.5 615.5 627.0 638.5 651.7" y="437.5 438.3 437.5 437.5 437.5 437.5 437.5 437.5">(<tspan font-size="20">×</tspan>1E5 m)</text>
<text class="thin1" font-size="16.3" x="658.7 668.7 681.0 691.8 702.2 713.1 723.7 732.8 741.8" y="143">t=58200 s</text>
<text class="thin" font-size="24" x="379.7 397.1 414.0 429.0 444.0 456.1 467.9 477.8 487.2 502.4 514.1 525.6" y="469.0 467.0 469.0 469.0 469.0 469.0 469.0 469.0 469.0 469.0 469.0 469.0">X-coordinate</text>
<text class="thin" font-size="24" transform="rotate(-90)" x="-334.0 -316.6 -299.7 -284.7 -269.7 -257.6 -245.8 -235.9 -226.5 -211.3 -199.6 -188.1" y="218.5 216.5 218.5 218.5 218.5 218.5 218.5 218.5 218.5 218.5 218.5 218.5">Z-coordinate</text>
<text class="med" font-size="20" x="332.4" y="415">1</text>
<text class="med" font-size="20" x="409.1" y="415">2</text>
<text class="med" font-size="20" x="485.8" y="415">3</text>
<text class="med" font-size="20" x="562.5" y="415">4</text>
<text class="med" font-size="20" x="639.2" y="415">5</text>
<text class="med" font-size="20" x="240.3" y="224.5">2</text>
<text class="med" font-size="20" x="240.3" y="312">1</text>
<text class="lbl" font-size="17.5" x="691.5 698.8 706.8 716.3 727.6 739.5" y="202.0 202.0 202.0 202.0 201.3 202.0">3.6e-3</text>
<text class="lbl" font-size="17.5" x="691.5 698.8 706.8 716.3 727.6 739.5" y="316.0 316.0 316.0 316.0 315.3 316.0">1.5e-3</text>
<text class="lbl" font-size="17.5" x="691.4 701.0 712.6 724.0" y="365">6e-4</text>
<text class="lbl" font-size="17.5" x="691.4 701.0 712.6 724.0" y="382">3e-4</text>
<text class="lbl" font-size="17.5" x="691.5" y="398">0</text>
</svg></body></html>
